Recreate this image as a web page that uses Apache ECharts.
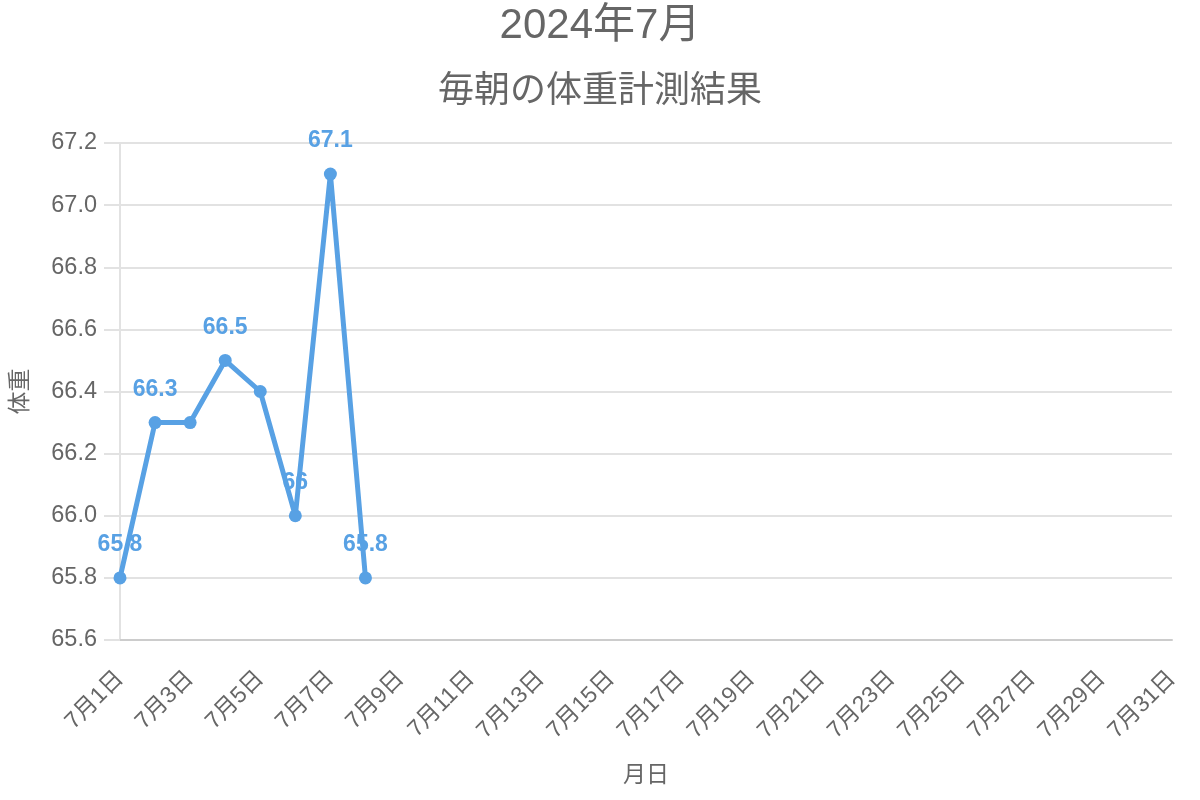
<!DOCTYPE html>
<html><head><meta charset="utf-8">
<script src="https://cdn.jsdelivr.net/npm/echarts@6/dist/echarts.min.js"></script>
<style>html,body{margin:0;padding:0;background:#fff}#c{width:1200px;height:800px}</style>
</head><body><div id="c"></div>
<script>
const titleText = '2024年7月';
const subtitleText = '毎朝の体重計測結果';
const xAxisName = '月日';
const yAxisName = '体重';
const days = [];
for (let d = 1; d <= 31; d++) days.push('7月' + d + '日');
const weights = [65.8, 66.3, 66.3, 66.5, 66.4, 66.0, 67.1, 65.8];
const labeledIdx = [0, 1, 3, 5, 6, 7];
const yMin = 65.6, yMax = 67.2, yStep = 0.2;

const FONT = 'Arial, "Liberation Sans", "Noto Sans CJK JP", sans-serif';
const blue = '#58a1e4';
const seriesData = weights.map((v, i) => ({
  value: v,
  label: { show: labeledIdx.indexOf(i) >= 0 }
}));

const chart = echarts.init(document.getElementById('c'));
chart.setOption({
  animation: false,
  title: [
    { text: titleText, left: 'center', top: 0,
      textStyle: { fontFamily: FONT, fontSize: 42, fontWeight: 'normal', color: '#666' } },
    { text: subtitleText, left: 'center', top: 69,
      textStyle: { fontFamily: FONT, fontSize: 36, fontWeight: 'normal', color: '#666' } }
  ],
  grid: { left: 120, right: 28, top: 143, bottom: 160, containLabel: false, outerBoundsMode: 'none' },
  xAxis: {
    type: 'category', data: days, boundaryGap: false,
    name: xAxisName, nameLocation: 'middle', nameGap: 124,
    nameTextStyle: { fontFamily: FONT, fontSize: 23, color: '#666' },
    axisLine: { lineStyle: { color: '#cccccc', width: 2 } },
    axisTick: { show: false },
    axisLabel: { interval: 1, rotate: 45, margin: 35, fontFamily: FONT, fontSize: 23, color: '#666' },
    splitLine: { show: false }
  },
  yAxis: {
    type: 'value', min: yMin, max: yMax, interval: yStep,
    name: yAxisName, nameLocation: 'middle', nameGap: 88, nameRotate: 90,
    nameTextStyle: { fontFamily: FONT, fontSize: 23, color: '#666' },
    axisLine: { show: true, lineStyle: { color: '#e2e2e2', width: 2 } },
    axisTick: { show: true, length: 16, lineStyle: { color: '#e2e2e2', width: 2 } },
    axisLabel: { margin: 23, fontFamily: FONT, fontSize: 23.5, color: '#666',
      formatter: v => v.toFixed(1) },
    splitLine: { lineStyle: { color: '#e2e2e2', width: 2 } }
  },
  series: [{
    type: 'line', data: seriesData,
    symbol: 'circle', symbolSize: 13,
    lineStyle: { color: blue, width: 5 },
    itemStyle: { color: blue },
    label: { position: 'top', distance: 15, fontFamily: FONT, fontSize: 23, fontWeight: 'bold', color: blue }
  }]
});
</script></body></html>
